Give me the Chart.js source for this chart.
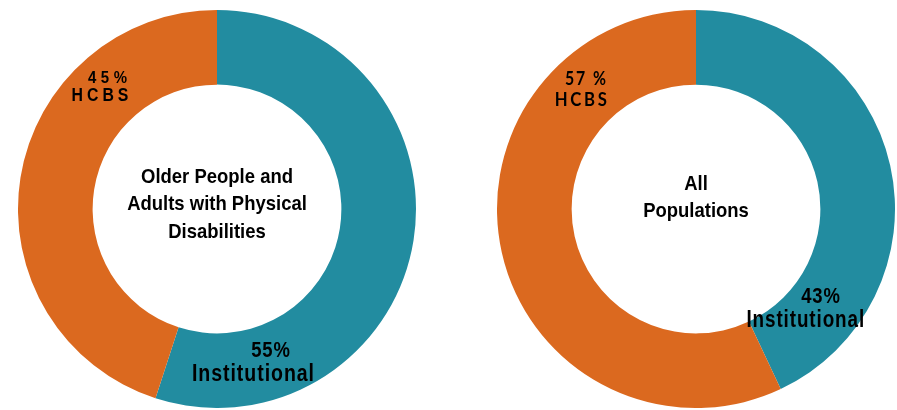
<!DOCTYPE html>
<html lang="en">
<head>
  <meta charset="UTF-8" />
  <title>HCBS vs Institutional spending</title>
  <style>
    body { margin: 0; background: #fff; width: 897px; height: 410px; position: relative; overflow: hidden; }
    canvas { position: absolute; top: 10px; }
    #olderChart { left: 18px; }
    #allChart { left: 497px; }
  </style>
</head>
<body>
  <canvas id="olderChart" width="398" height="398"></canvas>
  <canvas id="allChart" width="398" height="398"></canvas>

  <script src="https://cdn.jsdelivr.net/npm/chart.js"></script>
  <script>
    // slices go clockwise from 12 o'clock: Institutional first, then HCBS
    const categories = ['Institutional', 'HCBS'];
    const olderAdultShares = [55, 45];
    const allPopulationShares = [43, 57];
    const olderAdultTitle = ['Older People and', 'Adults with Physical', 'Disabilities'];
    const allPopulationTitle = ['All', 'Populations'];

    const sliceColors = ['#228ca0', '#db691f'];

    const sans = '"Liberation Sans", Arial, sans-serif';
    const lato = 'Lato, "Open Sans", sans-serif';

    // condensed text: squeeze horizontally, optional tracking
    function drawText(ctx, text, x, y, t) {
      ctx.save();
      ctx.font = t.font;
      ctx.letterSpacing = (t.spacing || 0) + 'px';
      ctx.textAlign = 'center';
      ctx.textBaseline = 'alphabetic';
      ctx.translate(x, y);
      ctx.scale(t.sx || 1, 1);
      ctx.fillText(text, (t.spacing || 0) / 2, 0);
      ctx.restore();
    }

    // text drawn on top of the ring and in the hole
    const donutText = {
      id: 'donutText',
      afterDraw(chart, args, opts) {
        const ctx = chart.ctx;
        const arc = chart.getDatasetMeta(0).data[0];
        const cx = arc.x, cy = arc.y;
        const values = chart.data.datasets[0].data;
        ctx.fillStyle = '#000';

        opts.title.forEach((line, i) => {
          drawText(ctx, line, cx, cy + opts.titleTop + i * opts.titleLead, opts.titleText);
        });

        opts.spots.forEach((s, i) => {
          drawText(ctx, values[i] + s.pct.suffix, cx + s.pct.x, cy + s.pct.y, s.pct);
          const name = s.name.upper ? chart.data.labels[i].toUpperCase() : chart.data.labels[i];
          drawText(ctx, name, cx + s.name.x, cy + s.name.y, s.name);
        });
      }
    };

    function makeDonut(id, values, title, titleTop, titleLead, spots) {
      return new Chart(document.getElementById(id), {
        type: 'doughnut',
        data: {
          labels: categories,
          datasets: [{
            data: values,
            backgroundColor: sliceColors,
            borderWidth: 0
          }]
        },
        options: {
          responsive: false,
          animation: false,
          cutout: '62.5%',
          layout: { padding: 0 },
          plugins: {
            legend: { display: false },
            tooltip: { enabled: false },
            donutText: {
              title: title,
              titleTop: titleTop,
              titleLead: titleLead,
              titleText: { font: 'bold 21px ' + sans, sx: 0.88 },
              spots: spots
            }
          }
        },
        plugins: [donutText]
      });
    }

    const bigPct = { font: 'bold 22px ' + sans, sx: 0.84, spacing: 1, suffix: '%' };
    const bigName = { font: 'bold 23px ' + sans, sx: 0.85, spacing: 1.1 };

    makeDonut('olderChart', olderAdultShares, olderAdultTitle, -26.5, 27.7, [
      { pct: { ...bigPct, x: 53.5, y: 148 }, name: { ...bigName, x: 36, y: 172 } },
      {
        pct: { font: 'bold 17px ' + sans, sx: 0.88, spacing: 5.2, suffix: '%', x: -109.5, y: -125.7 },
        name: { font: 'bold 18px ' + sans, sx: 0.88, spacing: 4.5, upper: true, x: -117, y: -108 }
      }
    ]);

    makeDonut('allChart', allPopulationShares, allPopulationTitle, -19, 26.7, [
      { pct: { ...bigPct, x: 124.5, y: 94.3 }, name: { ...bigName, x: 109.3, y: 117.7, sx: 0.82 } },
      {
        pct: { font: 'bold 18px ' + lato, sx: 0.88, spacing: 2.2, suffix: ' %', x: -110.5, y: -124 },
        name: { font: 'bold 19px ' + lato, sx: 0.88, spacing: 3.1, upper: true, x: -115.2, y: -103.3 }
      }
    ]);
  </script>
</body>
</html>
